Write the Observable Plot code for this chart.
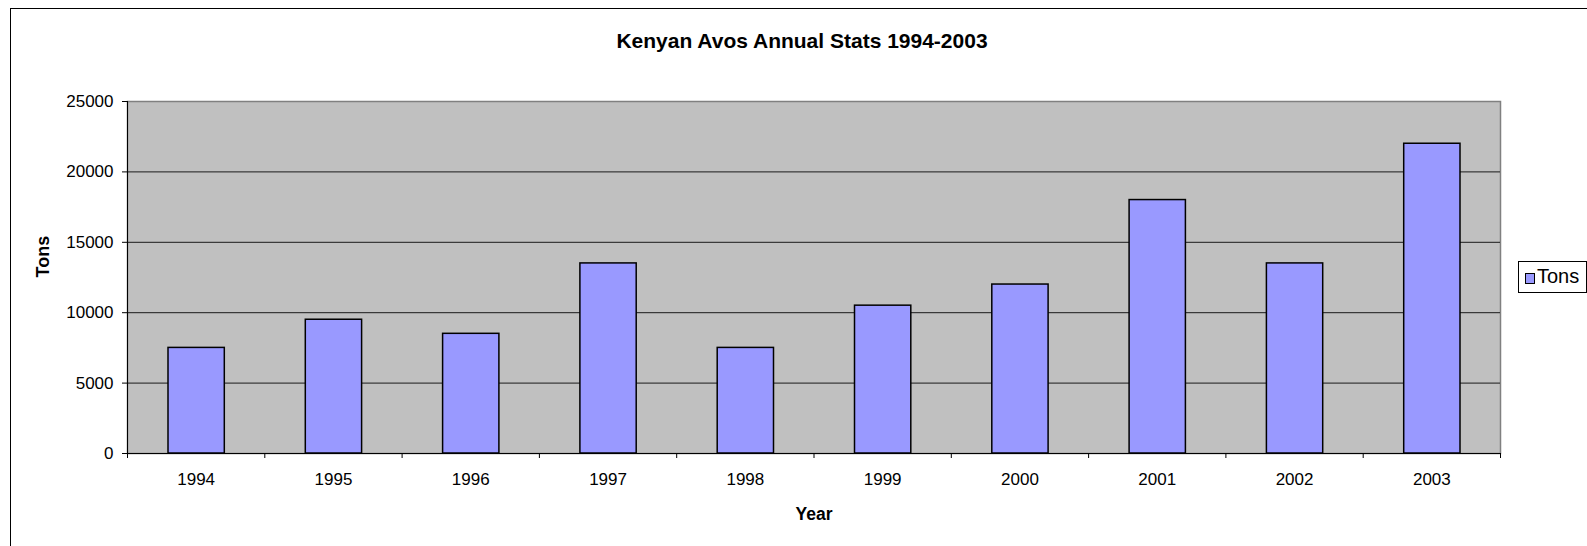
<!DOCTYPE html>
<html>
<head>
<meta charset="utf-8">
<script src="https://cdn.jsdelivr.net/npm/d3@7"></script>
<script src="https://cdn.jsdelivr.net/npm/@observablehq/plot@0.6"></script>
<style>
  html, body { margin: 0; padding: 0; background: #fff; overflow: hidden; }
  #wrap { position: relative; width: 1587px; height: 546px; overflow: hidden; font-family: "Liberation Sans", Arial, sans-serif; }
  #border { position: absolute; left: 10px; top: 8px; width: 1700px; height: 700px; border-left: 1px solid #000; border-top: 1px solid #000; }
  #chart { position: absolute; left: 0; top: 0; }
  #legend { position: absolute; left: 1518px; top: 261px; width: 69px; height: 32px; border: 1px solid #000; background: #fff; box-sizing: border-box; }
  #legend .sw { position: absolute; left: 6px; top: 11px; width: 8px; height: 9px; background: #9999ff; border: 1.5px solid #000; }
  #legend .lb { position: absolute; left: 18px; top: 3px; font-size: 20px; line-height: 23px; color: #000; }
</style>
</head>
<body>
<div id="wrap">
  <div id="border"></div>
  <div id="chart"></div>
  <div id="legend"><div class="sw"></div><div class="lb"></div></div>
</div>
<script>
const years = [1994, 1995, 1996, 1997, 1998, 1999, 2000, 2001, 2002, 2003];
const tons = [7500, 9500, 8500, 13500, 7500, 10500, 12000, 18000, 13500, 22000];
const yTicks = [0, 5000, 10000, 15000, 20000, 25000];
const gridValues = [5000, 10000, 15000, 20000];
const boundaries = [1993.5, 1994.5, 1995.5, 1996.5, 1997.5, 1998.5, 1999.5, 2000.5, 2001.5, 2002.5, 2003.5];
const titleText = "Kenyan Avos Annual Stats 1994-2003";
const xLabel = "Year";
const yLabel = "Tons";
const seriesName = "Tons";

const data = years.map((year, i) => ({year, tons: tons[i]}));

const chart = Plot.plot({
  width: 1587,
  height: 546,
  marginLeft: 127,
  marginRight: 87,
  marginTop: 101,
  marginBottom: 93,
  style: {fontFamily: "'Liberation Sans', Arial, sans-serif", fontSize: "17px", background: "transparent", color: "#000", overflow: "visible"},
  x: {type: "linear", domain: [1993.5, 2003.5], axis: null},
  y: {domain: [0, 25000], axis: null},
  marks: [
    Plot.frame({fill: "#c0c0c0", stroke: "#808080", strokeWidth: 1.5}),
    Plot.ruleY(gridValues, {stroke: "#1a1a1a", strokeWidth: 1}),
    Plot.rectY(data, {x1: d => d.year - 0.5, x2: d => d.year + 0.5, y: "tons", fill: "#9999ff", stroke: "#000", strokeWidth: 1.5, insetLeft: 41, insetRight: 40}),
    Plot.ruleX([1993.5], {stroke: "#000", strokeWidth: 1}),
    Plot.ruleY([0], {stroke: "#000", strokeWidth: 1}),
    Plot.axisY({ticks: yTicks, tickSize: 5, tickPadding: 9, tickFormat: d => String(d), label: null, fontSize: 17}),
    Plot.axisX({ticks: boundaries, tickSize: 5, tickFormat: () => "", label: null}),
    Plot.axisX({ticks: years, tickSize: 0, tickPadding: 19, tickFormat: d => String(d), label: null, fontSize: 17}),
    Plot.text([xLabel], {frameAnchor: "bottom", lineAnchor: "middle", dy: 60.5, fontWeight: "bold", fontSize: 17.5}),
    Plot.text([yLabel], {frameAnchor: "left", lineAnchor: "middle", dx: -84, rotate: -90, fontWeight: "bold", fontSize: 18}),
    Plot.text([titleText], {frameAnchor: "top", lineAnchor: "middle", dy: -60.5, dx: -12, fontWeight: "bold", fontSize: 21})
  ]
});
document.getElementById("chart").appendChild(chart);
document.querySelector("#legend .lb").textContent = seriesName;
</script>
</body>
</html>
